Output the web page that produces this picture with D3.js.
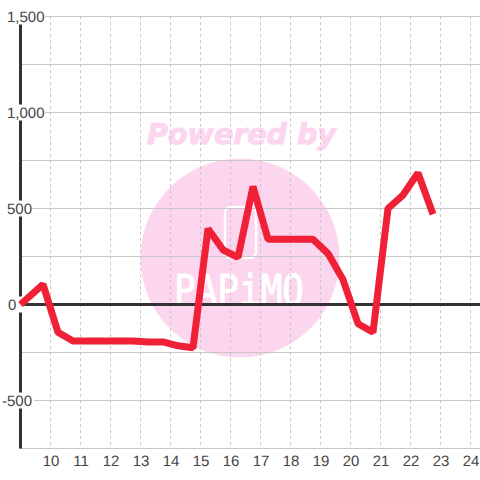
<!DOCTYPE html>
<html>
<head>
<meta charset="utf-8">
<script src="https://cdn.jsdelivr.net/npm/d3@7"></script>
<style>
html, body { margin: 0; padding: 0; background: #fff; }
svg { display: block; }
text { font-family: "Liberation Sans", Arial, sans-serif; text-rendering: geometricPrecision; }
</style>
</head>
<body>
<svg id="chart" width="480" height="480"></svg>
<script>
const hours = [9, 9.75, 10.25, 10.75, 11.25, 11.75, 12.25, 12.75, 13.25, 13.75, 14.25, 14.75, 15.25, 15.75, 16.25, 16.75, 17.25, 17.75, 18.25, 18.75, 19.25, 19.75, 20.25, 20.75, 21.25, 21.75, 22.25, 22.75];
const values = [0, 105, -145, -190, -190, -190, -190, -190, -195, -195, -215, -225, 395, 285, 245, 615, 340, 340, 340, 340, 265, 130, -100, -145, 500, 570, 685, 470];
const xTicks = [10, 11, 12, 13, 14, 15, 16, 17, 18, 19, 20, 21, 22, 23, 24];
const yMajor = [-500, 0, 500, 1000, 1500];
const yMinor = [-750, -250, 250, 750, 1250];
const yLabels = ["-500", "0", "500", "1,000", "1,500"];

const svg = d3.select("#chart");
const x = d3.scaleLinear().domain([9, 24.3167]).range([20.5, 480]);
const y = d3.scaleLinear().domain([-750, 1500]).range([448.5, 16.5]);

// watermark sits under the grid
const mark = svg.append("g");
mark.append("circle").attr("cx", 240).attr("cy", 258).attr("r", 99.5).attr("fill", "#fcd5ee");
mark.append("rect")
    .attr("x", 225).attr("y", 207).attr("width", 31).attr("height", 51).attr("rx", 6)
    .attr("fill", "none").attr("stroke", "#fff").attr("stroke-width", 2.5);
mark.append("text")
    .attr("transform", "translate(239,305) scale(1,1.18)")
    .attr("text-anchor", "middle")
    .attr("fill", "#fff")
    .attr("stroke", "#fff")
    .attr("stroke-width", 0.8)
    .attr("font-size", "36px")
    .style("font-family", "DejaVu Sans Mono")
    .text("PAPiMO");
mark.append("text")
    .attr("x", 241.5).attr("y", 144)
    .attr("text-anchor", "middle")
    .attr("fill", "#fcd5ee")
    .attr("stroke", "#fcd5ee")
    .attr("stroke-width", 1)
    .attr("font-size", "28.5px")
    .attr("font-weight", "bold")
    .attr("font-style", "italic")
    .style("font-family", "DejaVu Sans")
    .text("Powered by");

const grid = svg.append("g");
grid.selectAll(".h")
    .data(yMajor.concat(yMinor))
    .join("line")
    .attr("x1", 20).attr("x2", 480)
    .attr("y1", d => y(d)).attr("y2", d => y(d))
    .attr("stroke", "#c8c8c8").attr("stroke-width", 1);
grid.selectAll(".v")
    .data(xTicks)
    .join("line")
    .attr("x1", d => x(d)).attr("x2", d => x(d))
    .attr("y1", 16).attr("y2", 448)
    .attr("stroke", "#c8c8c8").attr("stroke-dasharray", "3,3");

// axes
svg.append("line")
    .attr("x1", x(9)).attr("x2", x(9))
    .attr("y1", y(1500)).attr("y2", y(-750))
    .attr("stroke", "#333").attr("stroke-width", 3);
svg.append("line")
    .attr("x1", 20).attr("x2", 480)
    .attr("y1", y(0)).attr("y2", y(0))
    .attr("stroke", "#333").attr("stroke-width", 3);

// y labels knock out the grid behind them: [box left, box right, text left]
const labelBox = { "-500": [0, 34, 2], "0": [6, 23, 8], "500": [5, 32, 7], "1,000": [5, 45, 7], "1,500": [5, 45, 7] };
const labelGroup = svg.append("g");
yMajor.forEach((v, i) => {
    const box = labelBox[yLabels[i]];
    labelGroup.append("rect")
        .attr("x", box[0]).attr("y", y(v) - 8)
        .attr("width", box[1] - box[0]).attr("height", 16)
        .attr("fill", "#fff");
    labelGroup.append("text")
        .attr("x", box[2]).attr("y", y(v) + 5.5)
        .attr("fill", "#444")
        .attr("font-size", "15px")
        .text(yLabels[i]);
});

svg.append("g").selectAll("text")
    .data(xTicks)
    .join("text")
    .attr("x", d => x(d) + 0.5)
    .attr("y", 466)
    .attr("text-anchor", "middle")
    .attr("fill", "#444")
    .attr("font-size", "15px")
    .text(d => d);

const line = d3.line()
    .x((d, i) => x(hours[i]))
    .y(d => y(d))
    .curve(d3.curveLinear);

svg.append("path")
    .datum(values)
    .attr("fill", "none")
    .attr("stroke", "#f02037")
    .attr("stroke-width", 7)
    .attr("stroke-linejoin", "bevel")
    .attr("d", line);
</script>
</body>
</html>
